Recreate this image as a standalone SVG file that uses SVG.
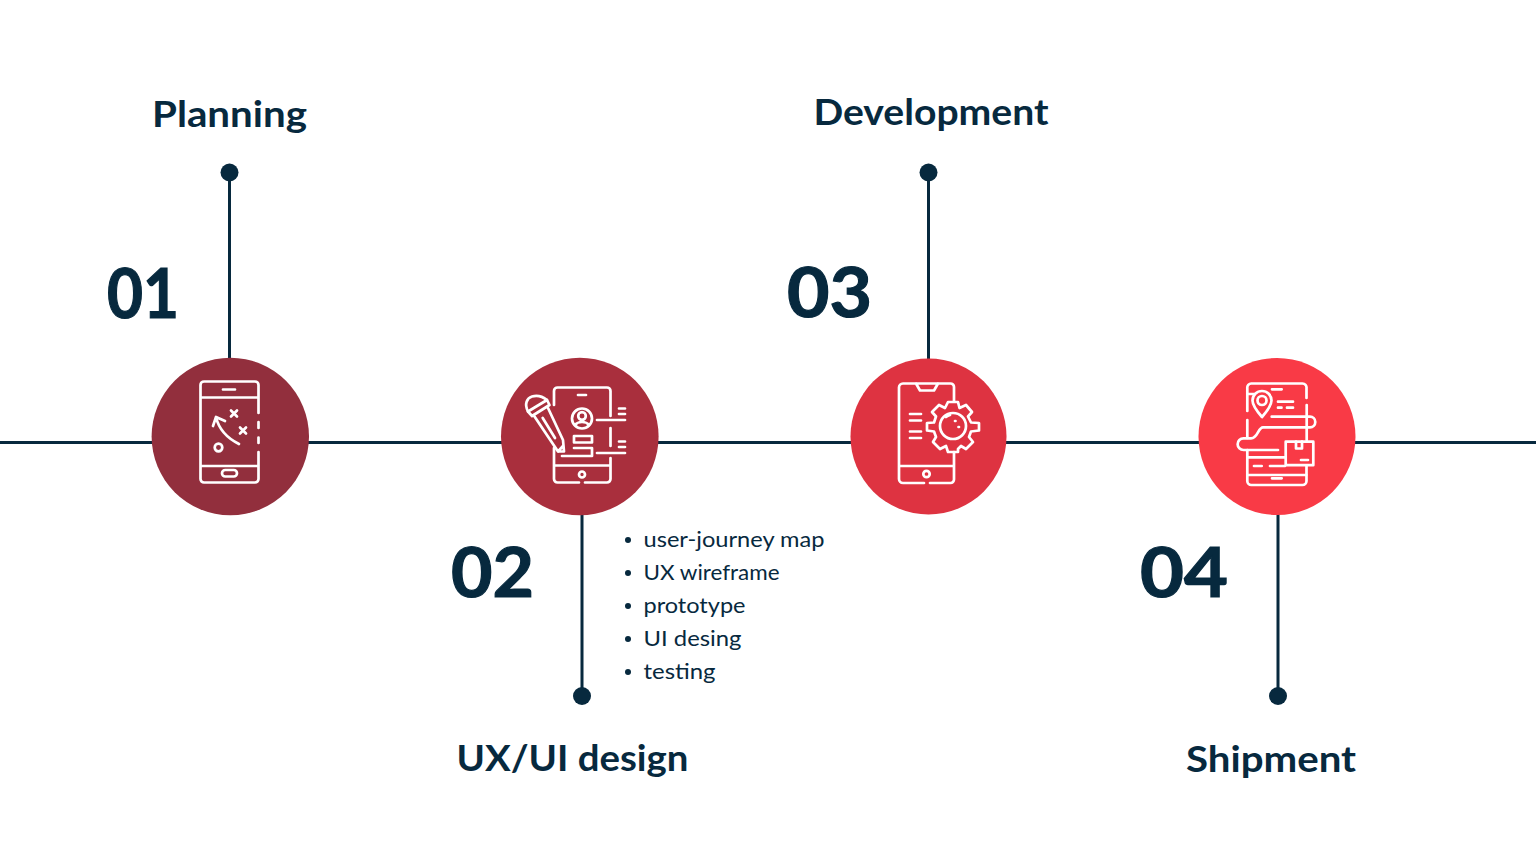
<svg xmlns="http://www.w3.org/2000/svg" width="1536" height="864" viewBox="0 0 1536 864">
<style>
.ln{stroke:#07293e;stroke-width:3;fill:none}
.dot{fill:#07293e}
.ic{fill:none;stroke:#fff;stroke-width:2.700;stroke-linecap:round;stroke-linejoin:round}
text{font-family:"Lato","Noto Sans",sans-serif;fill:#07293e}
.t{font-size:36px;font-weight:700}
.n{font-size:68px;font-weight:700;stroke:#07293e;stroke-width:1.200}
.b{font-size:22px;font-weight:400}
</style>
<rect width="1536" height="864" fill="#fff"/>
<g id="connectors">
<path class="ln" d="M0 442.500H1536"/>
<path class="ln" d="M229.500 172V360M582 514V696M928.500 172V360M1278 514V696"/>
<circle class="dot" cx="229.500" cy="172.500" r="9"/>
<circle class="dot" cx="582" cy="696" r="9"/>
<circle class="dot" cx="928.500" cy="172.500" r="9"/>
<circle class="dot" cx="1278" cy="696" r="9"/>
</g>
<g id="node-planning">
<circle cx="230.300" cy="436.500" r="78.700" fill="#922f3d"/>
<path class="ic" d="M258.500 413V385a3.500 3.500 0 0 0-3.500-3.500H204a3.500 3.500 0 0 0-3.500 3.500V479a3.500 3.500 0 0 0 3.500 3.500H255a3.500 3.500 0 0 0 3.500-3.500V452M258.500 422V428M258.500 437.500V443M200.500 397.500H258.500M200.500 466H258.500M223 389.500H235"/>
<rect class="ic" x="222" y="470" width="15" height="6.500" rx="3.200"/>
<circle class="ic" cx="218.500" cy="447.500" r="3.800"/>
<path class="ic" d="M239 444C227 438 219 430 216 417M213 426L216 417L225 421M231 410.500L237 416.500M237 410.500L231 416.500M240 427.500L246 433.500M246 427.500L240 433.500"/>
</g>
<g id="node-uxui">
<circle cx="579.800" cy="436.500" r="78.800" fill="#a92f3d"/>
<path class="ic" d="M554 405V391a3.500 3.500 0 0 1 3.500-3.500H607a3.500 3.500 0 0 1 3.500 3.500V416M610.500 428V446M610.500 458V479a3.500 3.500 0 0 1-3.500 3.500H585M579 482.500H557.500a3.500 3.500 0 0 1-3.500-3.500V448M554 465.500H610.500M578 395H586"/>
<circle class="ic" cx="582" cy="418.500" r="10"/>
<circle class="ic" cx="582" cy="416" r="3.800"/>
<path class="ic" d="M575 425C578 421 586 421 589 425"/>
<rect class="ic" x="574" y="436" width="18" height="6.500"/>
<path class="ic" d="M574 448H592V456H562M597 420H625M597 453H625M619 408.500H625M619 414H625M619 441.500H625M619 447H625"/>
<circle class="ic" cx="582" cy="474.500" r="3"/>
<path class="ic" d="M533.500 415L558 451.500L564 451.500L563 440L548 408M542.700 418L555 438M558 451.500L563 446M528 411.500L547 400L549.500 405L532 416Z"/>
<path class="ic" d="M528 411.500C524 404 527 398 532 396.500C537 395 542 396 547 400"/>
</g>
<g id="node-development">
<circle cx="928.500" cy="436.500" r="78" fill="#de3341"/>
<path class="ic" d="M954 401V387a3.500 3.500 0 0 0-3.500-3.500H903a4 4 0 0 0-4 4V479a4 4 0 0 0 4 4H924M930 483H950.500a3.500 3.500 0 0 0 3.500-3.500V452M899 466H954M916 383.500L920 390.500H934L938 383.500"/>
<circle class="ic" cx="926.500" cy="474" r="3.200"/>
<path class="ic" d="M910 414H921M910 420.500H921M910 431.500H921M910 438H921"/>
<path class="ic" d="M948 402H958L959.500 408L966 405L972 412L968 416.500L971 422.500L979 423V430.500L971 431.500L969 437L973 442L966 449L961 446L958 449V452H948L946 446L940 449L933 442L936 437L934 431.500L927 430.500V423L934 422.500L936 416.500L932 412L939 405L945 408Z"/>
<circle class="ic" cx="953" cy="426" r="13"/>
<path class="ic" d="M946 417A11 11 0 0 1 950 415M955 421H955.500M958.500 427H959"/>
</g>
<g id="node-shipment">
<circle cx="1277" cy="436.500" r="78.500" fill="#f93a46"/>
<path class="ic" d="M1247.300 411V388a4 4 0 0 1 4-4.500H1302.500a4 4 0 0 1 4 4.500V398M1306.700 405V440M1247.300 420V438M1247.300 450V481a4 4 0 0 0 4 4H1302.500a4 4 0 0 0 4-4V466M1248 457.300H1285M1248 475H1306.700M1248 394H1254M1272 389.300H1281.700M1272 478.300H1281.700"/>
<path class="ic" d="M1262 417C1255 409 1252.500 405 1252.500 400.500A9.500 9.500 0 0 1 1271.500 400.500C1271.500 405 1269 409 1262 417Z"/>
<circle class="ic" cx="1262" cy="400.500" r="4.500"/>
<path class="ic" d="M1278 401.700H1293M1278 407.700H1281.500M1287 407.700H1293"/>
<path class="ic" d="M1271.700 416.700H1310A5.300 5.300 0 0 1 1310 427.300H1263C1258 427.300 1258 438.300 1251 438.300H1243.500A5.800 5.800 0 0 0 1243.500 450H1278"/>
<rect class="ic" x="1285.700" y="441.700" width="27.600" height="23.500"/>
<path class="ic" d="M1296 441.700V448.500H1302V441.700M1301 460H1308M1254 466H1261.700M1270 466H1285"/>
</g>
<g id="labels">
<text class="t" x="152" y="127" textLength="155" lengthAdjust="spacingAndGlyphs">Planning</text>
<text class="t" x="813.500" y="125" textLength="235" lengthAdjust="spacingAndGlyphs">Development</text>
<text class="t" x="456.500" y="770.500" textLength="232" lengthAdjust="spacingAndGlyphs">UX/UI design</text>
<text class="t" x="1186" y="771.500" textLength="170" lengthAdjust="spacingAndGlyphs">Shipment</text>
<text class="n" x="107" y="318" textLength="72" lengthAdjust="spacingAndGlyphs">01</text>
<text class="n" x="451" y="596.500" textLength="83" lengthAdjust="spacingAndGlyphs">02</text>
<text class="n" x="787" y="317" textLength="85" lengthAdjust="spacingAndGlyphs">03</text>
<text class="n" x="1140" y="596.500" textLength="88" lengthAdjust="spacingAndGlyphs">04</text>
<text class="b" x="643.500" y="546.500" textLength="181" lengthAdjust="spacingAndGlyphs">user-journey map</text>
<text class="b" x="643.500" y="579.500" textLength="136" lengthAdjust="spacingAndGlyphs">UX wireframe</text>
<text class="b" x="643.500" y="612.500" textLength="102" lengthAdjust="spacingAndGlyphs">prototype</text>
<text class="b" x="643.500" y="645.500" textLength="98" lengthAdjust="spacingAndGlyphs">UI desing</text>
<text class="b" x="643.500" y="678.500" textLength="72" lengthAdjust="spacingAndGlyphs">testing</text>
<circle class="dot" cx="628" cy="540" r="3"/>
<circle class="dot" cx="628" cy="573" r="3"/>
<circle class="dot" cx="628" cy="606" r="3"/>
<circle class="dot" cx="628" cy="639" r="3"/>
<circle class="dot" cx="628" cy="672" r="3"/>
</g>
</svg>
